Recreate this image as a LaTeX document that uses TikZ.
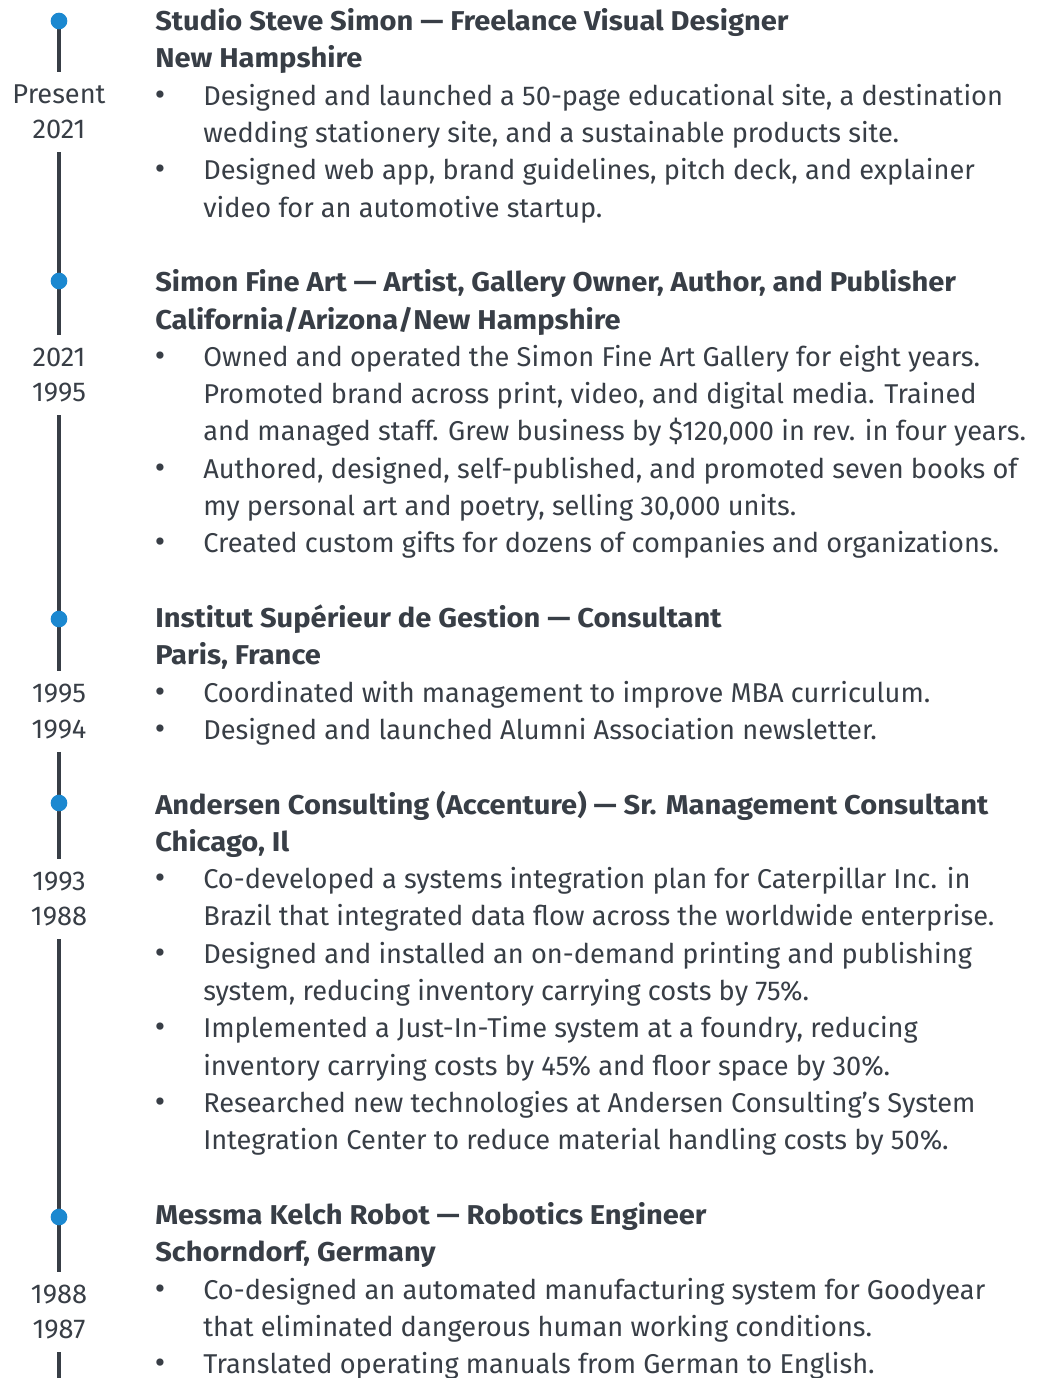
\documentclass[tikz,border=0pt]{standalone}
\usepackage{fontspec}
\setmainfont{Fira Sans}
\usetikzlibrary{positioning,backgrounds}

\definecolor{ink}{HTML}{383E46}
\definecolor{dotblue}{HTML}{1B88D0}

\newcommand{\cvsize}{\fontsize{20.4pt}{28pt}\selectfont}
\newcommand{\datesize}{\fontsize{20.4pt}{26.6pt}\selectfont}

\tikzset{
  rail/.style={draw=ink, line width=2.6pt},
  stopdot/.style={circle, fill=dotblue, inner sep=0pt, minimum size=12.5pt},
  when/.style={text=ink, font=\datesize, align=center, inner sep=0pt, minimum height=60pt},
  head/.style={anchor=base west, text=ink, font=\bfseries\cvsize\addfontfeature{FakeStretch=1.07}, inner sep=0pt},
  txt/.style={anchor=base west, text=ink, font=\cvsize, inner sep=0pt},
  bul/.style={anchor=base, text=ink, font=\fontsize{24pt}{28pt}\selectfont, inner sep=0pt},
}

\begin{document}
\begin{tikzpicture}[x=0.75pt,y=-0.75pt]
    \useasboundingbox (0,0) rectangle (1042,1378);

    % timeline stops and dates
    \node[stopdot] (s1) at (59,21) {};
    \node[stopdot] (s2) at (59,281) {};
    \node[stopdot] (s3) at (59,619) {};
    \node[stopdot] (s4) at (59,803) {};
    \node[stopdot] (s5) at (59,1217) {};
    \coordinate (railend) at (59,1385);

    \node[when] (d1) at (59,112) {Present\\2021};
    \node[when] (d2) at (59,375) {2021\\1995};
    \node[when] (d3) at (59,711.5) {1995\\1994};
    \node[when] (d4) at (59,899) {1993\\1988};
    \node[when] (d5) at (59,1312) {1988\\1987};

    \begin{scope}[on background layer]
        \draw[rail] (s1.center) -- (d1.north);
        \draw[rail] (d1.south) -- (d2.north);
        \draw[rail] (d2.south) -- (d3.north);
        \draw[rail] (d3.south) -- (d4.north);
        \draw[rail] (d4.south) -- (d5.north);
        \draw[rail] (d5.south) -- (railend);
    \end{scope}

    % Studio Steve Simon
    \node[head] (h1a) at (155,30.5) {Studio Steve Simon — Freelance Visual Designer};
    \node[head] (h1b) at (155,67.8) {New Hampshire};
    \node[bul] (b1a) at (160,105.1) {•};
    \node[txt] (t1a) at (203,105.1) {Designed and launched a 50-page educational site, a destination};
    \node[txt] (t1b) at (203,142.4) {wedding stationery site, and a sustainable products site.};
    \node[bul] (b1b) at (160,179.7) {•};
    \node[txt] (t1c) at (203,179.7) {Designed web app, brand guidelines, pitch deck, and explainer};
    \node[txt] (t1d) at (203,217.1) {video for an automotive startup.};

    % Simon Fine Art
    \node[head] (h2a) at (155,291.7) {Simon Fine Art — Artist, Gallery Owner, Author, and Publisher};
    \node[head] (h2b) at (155,329.0) {California/Arizona/New Hampshire};
    \node[bul] (b2a) at (160,366.3) {•};
    \node[txt] (t2a) at (203,366.3) {Owned and operated the Simon Fine Art Gallery for eight years.};
    \node[txt] (t2b) at (203,403.6) {Promoted brand across print, video, and digital media. Trained};
    \node[txt] (t2c) at (203,440.9) {and managed staff. Grew business by \$120,000 in rev. in four years.};
    \node[bul] (b2b) at (160,478.2) {•};
    \node[txt] (t2d) at (203,478.2) {Authored, designed, self-published, and promoted seven books of};
    \node[txt] (t2e) at (203,515.5) {my personal art and poetry, selling 30,000 units.};
    \node[bul] (b2c) at (160,552.8) {•};
    \node[txt] (t2f) at (203,552.8) {Created custom gifts for dozens of companies and organizations.};

    % Institut Superieur de Gestion
    \node[head] (h3a) at (155,627.5) {Institut Supérieur de Gestion — Consultant};
    \node[head] (h3b) at (155,664.8) {Paris, France};
    \node[bul] (b3a) at (160,702.1) {•};
    \node[txt] (t3a) at (203,702.1) {Coordinated with management to improve MBA curriculum.};
    \node[bul] (b3b) at (160,739.4) {•};
    \node[txt] (t3b) at (203,739.4) {Designed and launched Alumni Association newsletter.};

    % Andersen Consulting
    \node[head] (h4a) at (155,814.0) {Andersen Consulting (Accenture) — Sr. Management Consultant};
    \node[head] (h4b) at (155,851.3) {Chicago, Il};
    \node[bul] (b4a) at (160,888.6) {•};
    \node[txt] (t4a) at (203,888.6) {Co-developed a systems integration plan for Caterpillar Inc. in};
    \node[txt] (t4b) at (203,925.9) {Brazil that integrated data flow across the worldwide enterprise.};
    \node[bul] (b4b) at (160,963.3) {•};
    \node[txt] (t4c) at (203,963.3) {Designed and installed an on-demand printing and publishing};
    \node[txt] (t4d) at (203,1000.6) {system, reducing inventory carrying costs by 75\%.};
    \node[bul] (b4c) at (160,1037.9) {•};
    \node[txt] (t4e) at (203,1037.9) {Implemented a Just-In-Time system at a foundry, reducing};
    \node[txt] (t4f) at (203,1075.2) {inventory carrying costs by 45\% and floor space by 30\%.};
    \node[bul] (b4d) at (160,1112.5) {•};
    \node[txt] (t4g) at (203,1112.5) {Researched new technologies at Andersen Consulting’s System};
    \node[txt] (t4h) at (203,1149.8) {Integration Center to reduce material handling costs by 50\%.};

    % Messma Kelch Robot
    \node[head] (h5a) at (155,1224.4) {Messma Kelch Robot — Robotics Engineer};
    \node[head] (h5b) at (155,1261.7) {Schorndorf, Germany};
    \node[bul] (b5a) at (160,1299.0) {•};
    \node[txt] (t5a) at (203,1299.0) {Co-designed an automated manufacturing system for Goodyear};
    \node[txt] (t5b) at (203,1336.4) {that eliminated dangerous human working conditions.};
    \node[bul] (b5b) at (160,1373.7) {•};
    \node[txt] (t5c) at (203,1373.7) {Translated operating manuals from German to English.};
\end{tikzpicture}
\end{document}
